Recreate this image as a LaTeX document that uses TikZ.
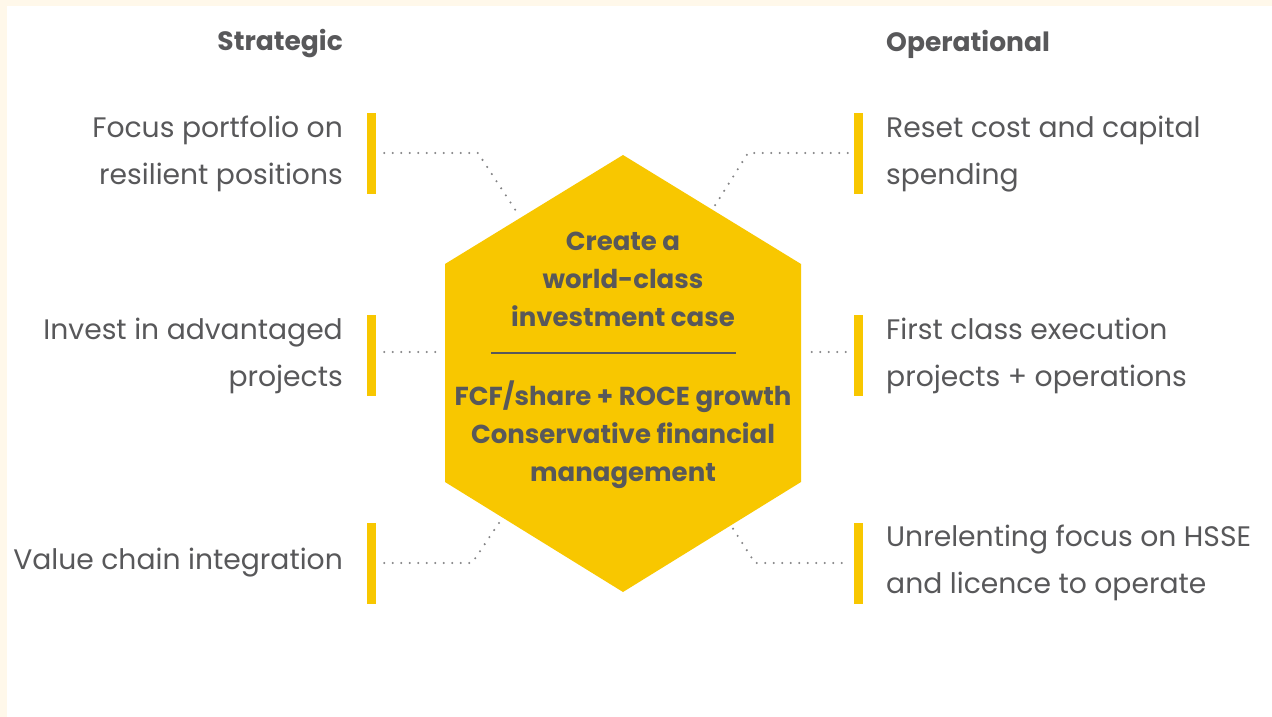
\documentclass[tikz,border=0pt]{standalone}
\usepackage{fontspec}
\setmainfont{Poppins}
\definecolor{hexyellow}{HTML}{F8C700}
\definecolor{txtgrey}{HTML}{58585A}
\definecolor{dotgrey}{HTML}{838385}
\definecolor{cream}{HTML}{FFF8EA}
\tikzset{
  bar/.style={fill=hexyellow, minimum width=9pt, minimum height=81pt, inner sep=0pt, draw=none},
  lefttext/.style={anchor=east, align=right, text=txtgrey, inner sep=0pt,
    font=\fontsize{28.2}{47}\selectfont},
  righttext/.style={anchor=west, align=left, text=txtgrey, inner sep=0pt,
    font=\fontsize{28.2}{47}\selectfont},
  heading/.style={text=txtgrey, inner sep=0pt, font=\fontsize{26.5}{34}\selectfont\bfseries},
  hextext/.style={text=txtgrey, align=center, inner sep=0pt, font=\fontsize{26}{38}\selectfont\bfseries},
  dots/.style={draw=dotgrey, line width=2.3pt, line cap=round, dash pattern=on 0pt off 8.5pt},
}
\begin{document}
\begin{tikzpicture}[x=1pt,y=-1pt]
% page background with the cream band along the top and left edges
\fill[cream] (0,0) rectangle (1272,717);
\fill[white] (7,6) rectangle (1272,717);
\useasboundingbox (0,0) rectangle (1272,717);

% central hexagon
\fill[hexyellow] (623,155) -- (801,264) -- (801,482) -- (623,592) -- (445,482) -- (445,264) -- cycle;
\coordinate (hexTL) at (518,214);
\coordinate (hexTR) at (714,207);
\coordinate (hexL) at (443,352);
\coordinate (hexR) at (805,352);
\coordinate (hexBL) at (501,520);
\coordinate (hexBR) at (732,527);
\coordinate (kneeTL) at (478,153);
\coordinate (kneeTR) at (748,153);
\coordinate (kneeBL) at (472,563);
\coordinate (kneeBR) at (755,563);

\node[hextext] (hexTop) at (623,279) {Create a\\world-class\\investment case};
\draw[txtgrey, line width=1.6pt] (491,353) -- (736,353);
\node[hextext] (hexBottom) at (623,435) {FCF/share + ROCE growth\\Conservative financial\\management};

% headings
\node[heading, anchor=east] (strategic) at (343,44) {Strategic};
\node[heading, anchor=west] (operational) at (886,44) {Operational};

% yellow bars
\node[bar] (barL1) at (371.5,153) {};
\node[bar] (barL2) at (371.5,355.5) {};
\node[bar] (barL3) at (371.5,563.5) {};
\node[bar] (barR1) at (858.5,153) {};
\node[bar] (barR2) at (858.5,355.5) {};
\node[bar] (barR3) at (858.5,563.5) {};

% labels
\node[lefttext] (txtL1) at (343,154) {Focus portfolio on\\resilient positions};
\node[lefttext] (txtL2) at (343,356) {Invest in advantaged\\projects};
\node[lefttext] (txtL3) at (343,563) {Value chain integration};
\node[righttext] (txtR1) at (886,154) {Reset cost and capital\\spending};
\node[righttext] (txtR2) at (886,356) {First class execution\\projects + operations};
\node[righttext] (txtR3) at (886,563) {Unrelenting focus on HSSE\\and licence to operate};

% dotted connectors
\draw[dots] (barL1.east |- kneeTL) ++(8,0) -- (kneeTL) -- (hexTL);
\draw[dots] (barR1.west |- kneeTR) ++(-6,0) -- (kneeTR) -- (hexTR);
\draw[dots] ([xshift=8pt]barL2.east |- hexL) -- (hexL);
\draw[dots] ([xshift=-8pt]barR2.west |- hexR) -- (hexR);
\draw[dots] (barL3.east |- kneeBL) ++(8,0) -- (kneeBL) -- (hexBL);
\draw[dots] (barR3.west |- kneeBR) ++(-12,0) -- (kneeBR) -- (hexBR);
\end{tikzpicture}
\end{document}
